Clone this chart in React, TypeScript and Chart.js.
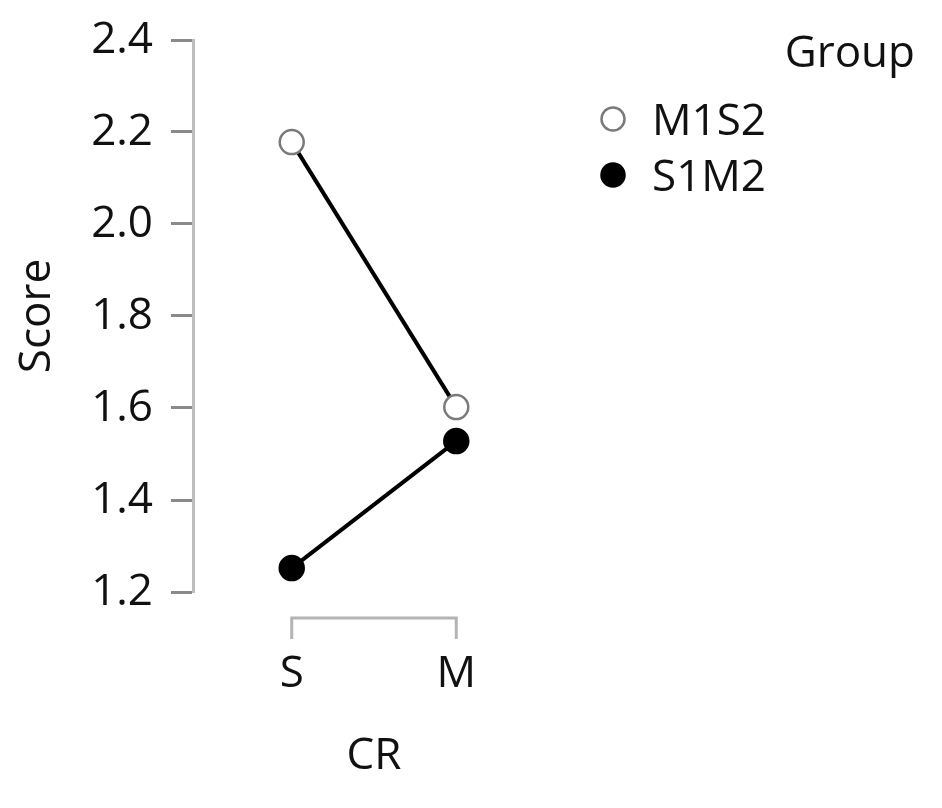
import React, { useEffect, useRef } from "react";
import { Chart, registerables } from "chart.js";

Chart.register(...registerables);

// ---- data ----
const categories = ["S", "M"];
const groupNames = ["M1S2", "S1M2"];
const m1s2Scores = [2.178, 1.602];
const s1m2Scores = [1.252, 1.528];
const yTickValues = [1.2, 1.4, 1.6, 1.8, 2.0, 2.2, 2.4];
const xTitle = "CR";
const yTitle = "Score";
const legendTitle = "Group";

const FONT_FAMILY = "'Open Sans', 'Noto Sans', sans-serif";
const FONT_SIZE = 44;
const TEXT_COLOR = "#111";

const W = 926;
const H = 792;

const rangeFramePlugin = {
  id: "rangeFrame",
  afterDraw(chart: any) {
    const { ctx, chartArea } = chart;
    const xs = chart.scales.x;
    const x0 = xs.getPixelForValue(0);
    const x1 = xs.getPixelForValue(categories.length - 1);
    const y = chartArea.bottom + 26;
    ctx.save();
    ctx.strokeStyle = "#b4b4b4";
    ctx.lineWidth = 3;
    ctx.lineJoin = "miter";
    ctx.beginPath();
    ctx.moveTo(x0, y + 21);
    ctx.lineTo(x0, y);
    ctx.lineTo(x1, y);
    ctx.lineTo(x1, y + 21);
    ctx.stroke();
    ctx.restore();
  },
};

const sideLegendPlugin = {
  id: "sideLegend",
  afterDraw(chart: any) {
    const { ctx } = chart;
    ctx.save();
    ctx.font = `${FONT_SIZE}px ${FONT_FAMILY}`;
    ctx.fillStyle = TEXT_COLOR;
    ctx.textBaseline = "alphabetic";
    ctx.textAlign = "right";
    ctx.fillText(legendTitle, 907, 59);
    ctx.textAlign = "left";
    chart.data.datasets.forEach((ds: any, i: number) => {
      const cy = 111 + i * 56;
      ctx.beginPath();
      ctx.arc(605, cy, 11.5, 0, Math.PI * 2);
      ctx.fillStyle = ds.pointBackgroundColor;
      ctx.fill();
      ctx.lineWidth = ds.pointBorderWidth;
      ctx.strokeStyle = ds.pointBorderColor;
      ctx.stroke();
      ctx.fillStyle = TEXT_COLOR;
      ctx.fillText(ds.label, 644, cy + 16);
    });
    ctx.restore();
  },
};

export default function App() {
  const ref = useRef<HTMLCanvasElement | null>(null);

  useEffect(() => {
    if (!ref.current) return;
    const font = { family: FONT_FAMILY, size: FONT_SIZE };
    const chart = new Chart(ref.current, {
      type: "line",
      data: {
        datasets: [
          {
            label: groupNames[0],
            data: m1s2Scores.map((v, i) => ({ x: i, y: v })),
            borderColor: "#000",
            borderWidth: 4,
            pointRadius: 12,
            pointBorderWidth: 2.5,
            pointBackgroundColor: "#fff",
            pointBorderColor: "#7a7a7a",
            clip: false,
          } as any,
          {
            label: groupNames[1],
            data: s1m2Scores.map((v, i) => ({ x: i, y: v })),
            borderColor: "#000",
            borderWidth: 4,
            pointRadius: 12,
            pointBorderWidth: 2.5,
            pointBackgroundColor: "#000",
            pointBorderColor: "#000",
            clip: false,
          } as any,
        ],
      },
      options: {
        responsive: false,
        animation: false,
        events: [],
        layout: { padding: { top: 32, right: 379, bottom: 0, left: 0 } },
        plugins: {
          legend: { display: false },
          tooltip: { enabled: false },
        },
        scales: {
          x: {
            type: "linear",
            min: -0.6,
            max: 1.6,
            afterBuildTicks: (s: any) => {
              s.ticks = categories.map((_, i) => ({ value: i }));
            },
            ticks: {
              callback: (v: any) => categories[Math.round(Number(v))] ?? "",
              font,
              color: TEXT_COLOR,
              padding: 56,
              maxRotation: 0,
              autoSkip: false,
            },
            grid: { display: false, drawTicks: false },
            border: { display: false },
            title: {
              display: true,
              text: xTitle,
              font,
              color: TEXT_COLOR,
              padding: { top: 0, bottom: 17 },
            },
            afterFit: (s: any) => {
              s.height = 208;
              s.paddingLeft = 0;
              s.paddingRight = 0;
            },
          },
          y: {
            min: yTickValues[0],
            max: yTickValues[yTickValues.length - 1],
            afterBuildTicks: (s: any) => {
              s.ticks = yTickValues.map((v) => ({ value: v }));
            },
            ticks: {
              callback: (v: any) => Number(v).toFixed(1),
              font,
              color: TEXT_COLOR,
              padding: 18,
            },
            grid: {
              drawOnChartArea: false,
              tickLength: 22,
              tickWidth: 3,
              tickColor: "#8a8a8a",
            },
            border: { color: "#bdbdbd", width: 3 },
            title: {
              display: true,
              text: yTitle,
              font,
              color: TEXT_COLOR,
              padding: { top: 3, bottom: 0 },
            },
            afterFit: (s: any) => {
              s.width = 185;
              s.paddingTop = 0;
              s.paddingBottom = 0;
            },
          },
        },
      } as any,
      plugins: [rangeFramePlugin, sideLegendPlugin],
    });
    return () => chart.destroy();
  }, []);

  return (
    <div style={{ width: W, height: H, position: "relative" }}>
      <canvas ref={ref} width={W} height={H} style={{ display: "block", width: W, height: H }} />
    </div>
  );
}
